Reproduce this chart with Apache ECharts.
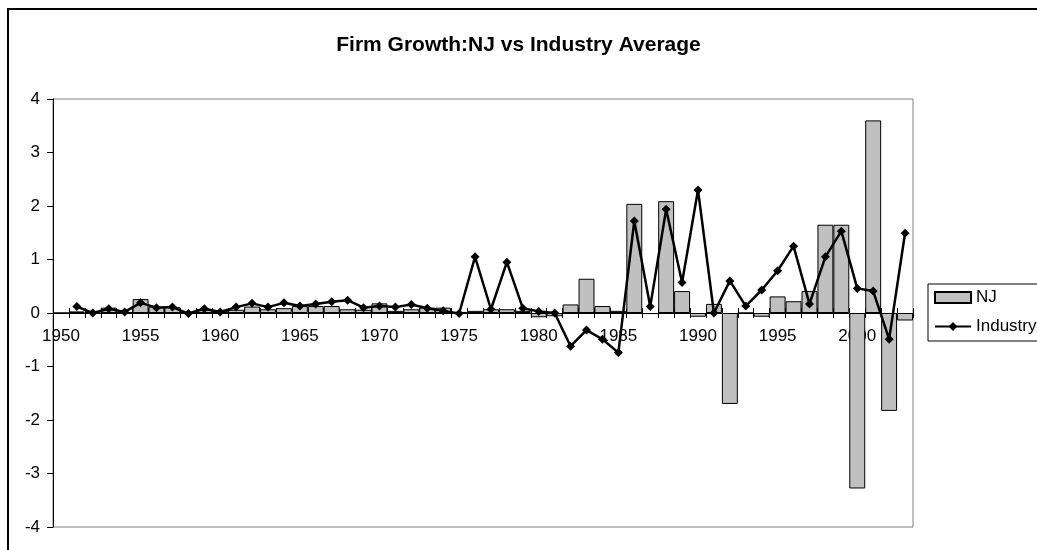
<!DOCTYPE html>
<html>
<head>
<meta charset="utf-8">
<script src="https://cdn.jsdelivr.net/npm/echarts@6/dist/echarts.min.js"></script>
<style>
  html, body { margin: 0; padding: 0; background: #fff; }
  #chart { width: 1037px; height: 550px; }
</style>
</head>
<body>
<div id="chart"></div>
<script>
const years = []
for (let y = 1950; y <= 2003; y++) years.push(String(y))

const njGrowth = [
  0.00, 0.03, 0.02, 0.10, 0.02, 0.26, 0.12, 0.11, 0.02, 0.07,
  0.04, 0.06, 0.12, 0.07, 0.09, 0.13, 0.13, 0.13, 0.07, 0.06,
  0.18, 0.04, 0.07, 0.10, 0.10, 0.02, 0.04, 0.07, 0.07, 0.04,
  -0.08, -0.06, 0.16, 0.64, 0.13, 0.04, 2.04, -0.02, 2.09, 0.41,
  -0.07, 0.17, -1.70, 0.00, -0.07, 0.31, 0.22, 0.41, 1.65, 1.65,
  -3.28, 3.60, -1.83, -0.14
]

const industryGrowth = [
  null, 0.12, 0.00, 0.08, 0.02, 0.19, 0.10, 0.11, -0.01, 0.08,
  0.02, 0.11, 0.18, 0.11, 0.19, 0.13, 0.17, 0.21, 0.24, 0.10,
  0.13, 0.11, 0.16, 0.09, 0.04, -0.01, 1.05, 0.07, 0.95, 0.09,
  0.03, 0.00, -0.62, -0.32, -0.49, -0.74, 1.72, 0.12, 1.94, 0.57,
  2.30, 0.00, 0.60, 0.13, 0.43, 0.79, 1.25, 0.17, 1.05, 1.53,
  0.46, 0.41, -0.49, 1.49
]

const font = 'Arial, "Liberation Sans", sans-serif'
const plotTop = 99
const plotBottom = 23
const plotHeight = 550 - plotTop - plotBottom

const chart = echarts.init(document.getElementById('chart'))
chart.setOption({
  animation: false,
  backgroundColor: '#fff',
  textStyle: { fontFamily: font, color: '#000' },
  graphic: [
    {
      type: 'rect',
      shape: { x: 8, y: 9, width: 1100, height: 600 },
      style: { fill: 'none', stroke: '#000', lineWidth: 2 },
      silent: true
    }
  ],
  title: {
    text: 'Firm Growth:NJ vs Industry Average',
    left: 'center',
    top: 30,
    textStyle: { fontFamily: font, fontSize: 21, fontWeight: 'bold', color: '#000' }
  },
  legend: {
    orient: 'vertical',
    left: 928,
    top: 284,
    padding: [5, 24, 6, 6],
    itemGap: 12,
    itemWidth: 36,
    itemHeight: 11,
    borderColor: '#000',
    borderWidth: 1,
    textStyle: { fontFamily: font, fontSize: 17, color: '#000' },
    data: [
      { name: 'NJ', icon: 'rect' },
      { name: 'Industry' }
    ]
  },
  grid: {
    left: 53,
    right: 124,
    top: plotTop,
    bottom: plotBottom,
    outerBoundsMode: 'none',
    containLabel: false,
    show: true,
    borderColor: '#808080',
    borderWidth: 1
  },
  xAxis: [
    {
      type: 'category',
      data: years,
      offset: -plotHeight / 2,
      axisLine: { onZero: false, lineStyle: { color: '#000', width: 1 } },
      axisTick: { show: true, interval: 0, length: 5, lineStyle: { color: '#000' } },
      axisLabel: { interval: 4, margin: 15, fontSize: 17, color: '#000', fontFamily: font },
      splitLine: { show: false }
    },
    {
      type: 'category',
      data: years,
      position: 'bottom',
      offset: -plotHeight / 2,
      axisLine: { show: false, onZero: false },
      axisTick: { show: true, inside: true, interval: 0, length: 5, lineStyle: { color: '#000' } },
      axisLabel: { show: false },
      splitLine: { show: false }
    }
  ],
  yAxis: {
    type: 'value',
    min: -4,
    max: 4,
    interval: 1,
    axisLine: { show: true, lineStyle: { color: '#000', width: 1 } },
    axisTick: { show: true, length: 6, lineStyle: { color: '#000' } },
    axisLabel: { fontSize: 17, color: '#000', margin: 13, fontFamily: font },
    splitLine: { show: false }
  },
  series: [
    {
      name: 'NJ',
      type: 'bar',
      data: njGrowth,
      barCategoryGap: 0,
      itemStyle: { color: '#c0c0c0', borderColor: '#000', borderWidth: 1 }
    },
    {
      name: 'Industry',
      type: 'line',
      data: industryGrowth,
      symbol: 'diamond',
      symbolSize: 9,
      connectNulls: false,
      lineStyle: { color: '#000', width: 2.5 },
      itemStyle: { color: '#000' }
    }
  ]
})
</script>
</body>
</html>
